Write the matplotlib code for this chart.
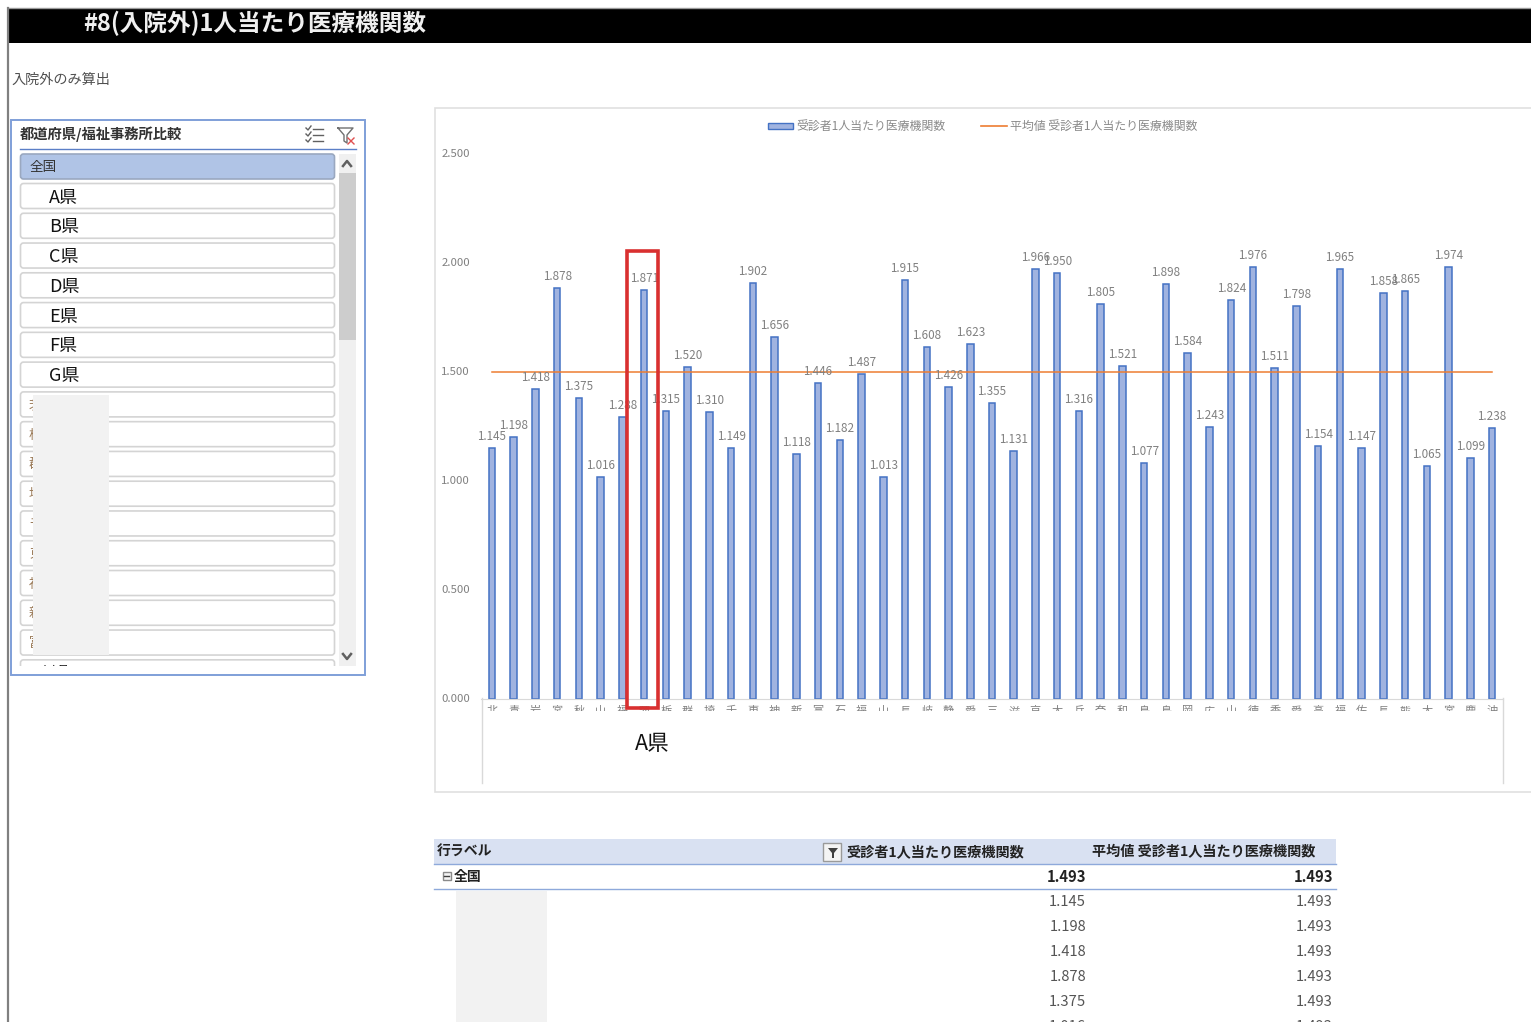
import matplotlib
matplotlib.use('Agg')
import matplotlib.pyplot as plt
from matplotlib.patches import Rectangle, FancyBboxPatch, Polygon
from matplotlib.transforms import Bbox

plt.rcParams['font.family'] = ['Noto Sans CJK JP', 'DejaVu Sans']

W, H = 1531, 1022

# per-prefecture values and the leading character of each axis label
prefs = list('北青岩宮秋山福茨栃群埼千東神新富石福山長岐静愛三滋京大兵奈和鳥島岡広山徳香愛高福佐長熊大宮鹿沖')
values = [1.145, 1.198, 1.418, 1.878, 1.375, 1.016, 1.288, 1.871, 1.315, 1.520,
          1.310, 1.149, 1.902, 1.656, 1.118, 1.446, 1.182, 1.487, 1.013, 1.915,
          1.608, 1.426, 1.623, 1.355, 1.131, 1.966, 1.950, 1.316, 1.805, 1.521,
          1.077, 1.898, 1.584, 1.243, 1.824, 1.976, 1.511, 1.798, 1.154, 1.965,
          1.147, 1.858, 1.865, 1.065, 1.974, 1.099, 1.238]
average = [1.493] * len(values)
yticks = [0, 0.5, 1.0, 1.5, 2.0, 2.5]

series_name = '受診者1人当たり医療機関数'
avg_name = '平均値 受診者1人当たり医療機関数'
slicer_items = ['A県', 'B県', 'C県', 'D県', 'E県', 'F県', 'G県']
slicer_stubs = list('茨栃群埼千東神新富')
table_rows = values[:6]

BAR_FILL = '#a0b3e0'
BAR_EDGE = '#4472c4'
ORANGE = '#ed7d31'
GREY = '#808080'

fig = plt.figure(figsize=(W / 100, H / 100), dpi=100, facecolor='white')


def pixel_axes(zorder):
    a = fig.add_axes([0, 0, 1, 1], zorder=zorder)
    a.set_xlim(0, W)
    a.set_ylim(H, 0)
    a.axis('off')
    a.patch.set_alpha(0)
    return a


ui = pixel_axes(0)
top = pixel_axes(5)

# page header
ui.add_patch(Rectangle((8, 9), W - 8, 34, fc='black', ec='none'))
ui.plot([8, W], [8.5, 8.5], color='#9a9a9a', lw=1)
ui.plot([7.5, 7.5], [8, H], color=GREY, lw=1.6)
ui.text(83, 23.5, '#8(入院外)1人当たり医療機関数', color='#f0f0f0', fontsize=17,
        fontweight='bold', va='center', ha='left')
ui.text(11, 80, '入院外のみ算出', color='#505050', fontsize=10.2, va='center')

# slicer panel
ui.add_patch(Rectangle((11, 120.5), 354, 554.5, fc='white', ec='none'))
ui.text(20, 134.5, '都道府県/福祉事務所比較', color='#333333', fontsize=10.3,
        fontweight='bold', va='center')
ui.plot([20, 356], [149.5, 149.5], color='#5b7fc7', lw=1)

# select-all and clear-filter icons
for yy in (129, 135, 141):
    ui.plot([313, 323], [yy, yy], color='#606060', lw=1)
    ui.plot([306, 308, 311], [yy - 1, yy + 1, yy - 3], color='#606060', lw=1)
ui.plot([338, 353, 347, 347, 344, 344, 338], [128, 128, 135, 143, 141, 135, 128],
        color='#707070', lw=1)
ui.plot([348, 354], [138, 144], color='#e05050', lw=1)
ui.plot([354, 348], [138, 144], color='#e05050', lw=1)


def row(y, h=25, fc='white', ec='#d4d4d4'):
    ui.add_patch(FancyBboxPatch((20.5, y), 314, h,
                                boxstyle='round,pad=0,rounding_size=3',
                                fc=fc, ec=ec, lw=1.2))


row(154, fc='#b0c4e6', ec='#9aa8c0')
ui.text(30, 167, '全国', color='#333333', fontsize=9.8, va='center')

for i in range(17):
    y0 = 183.5 + i * 29.77
    row(y0)
    cy = y0 + 13
    if i < len(slicer_items):
        ui.text(49, cy + 1, slicer_items[i], color='#111111', fontsize=13, va='center')
    elif i - len(slicer_items) < len(slicer_stubs):
        ui.text(29, cy, slicer_stubs[i - len(slicer_items)], color='#9a7a58',
                fontsize=9.6, va='center')
ui.text(30, 672, '石川県', color='#111111', fontsize=9.6, va='center')

# masks over the row labels and the slicer's lower edge
ui.add_patch(Rectangle((33, 395), 76, 260, fc='#f2f2f2', ec='none', zorder=6))
ui.add_patch(Rectangle((13, 666), 350, 24, fc='white', ec='none', zorder=6))
ui.add_patch(Rectangle((11, 120.5), 354, 554.5, fc='none', ec='#7f9fd8', lw=1.4, zorder=7))

# slicer scrollbar
ui.add_patch(Rectangle((339, 154), 17, 512, fc='#f0f0f0', ec='none'))
ui.add_patch(Rectangle((339, 173), 17, 167, fc='#cdcdcd', ec='none'))
ui.plot([343, 347, 351], [166, 161, 166], color='#606060', lw=1.8)
ui.plot([343, 347, 351], [654, 659, 654], color='#606060', lw=1.8)

# chart frame
ui.add_patch(Rectangle((434.5, 108.5), W, 684, fc='white', ec='#e0e0e0', lw=1.2))
ui.plot([482, 482], [698, 783], color='#d9d9d9', lw=1)
ui.plot([1503, 1503], [698, 783], color='#d9d9d9', lw=1)

# legend
ui.add_patch(Rectangle((767.5, 123.5), 25, 6, fc=BAR_FILL, ec=BAR_EDGE, lw=1))
ui.text(796, 126.5, series_name, color='#8a8a8a', fontsize=8.6, va='center')
ui.plot([981, 1007], [126, 126], color=ORANGE, lw=1.2)
ui.text(1010, 126.5, avg_name, color='#8a8a8a', fontsize=8.6, va='center')

# bar chart
ax_left, ax_right = 481, 1503
y0_px, y25_px = 698.5, 152.5
ax = fig.add_axes([ax_left / W, 1 - y0_px / H, (ax_right - ax_left) / W,
                   (y0_px - y25_px) / H], zorder=2)
ax.patch.set_alpha(0)
x = list(range(len(values)))
ax.bar(x, values, width=0.3, color=BAR_FILL, edgecolor=BAR_EDGE, linewidth=1.1)
ax.plot(x, average, color=ORANGE, lw=1.1)
for xi, v in zip(x, values):
    ax.annotate(f'{v:.3f}', (xi, v), xytext=(0, 5), textcoords='offset pixels',
                ha='center', va='bottom', fontsize=8.4, color='#808080',
                annotation_clip=False)
ax.set_xlim(-0.5, len(values) - 0.5)
ax.set_ylim(0, 2.5)
ax.set_yticks(yticks)
ax.set_yticklabels([f'{t:.3f}' for t in yticks], fontsize=8.2, color=GREY)
ax.set_xticks(x)
ax.set_xticklabels(prefs, fontsize=8, color='#808080')
ax.tick_params(axis='both', length=0)
ax.tick_params(axis='y', pad=8)
ax.tick_params(axis='x', pad=5.5)
for name in ('top', 'left', 'right'):
    ax.spines[name].set_visible(False)
ax.spines['bottom'].set_color('#d9d9d9')

# the category labels are cut off just under the axis
label_clip = Bbox([[0, H - 711], [W, H]])
for t in ax.get_xticklabels():
    t.set_clip_on(True)
    t.set_clip_box(label_clip)

# highlight around one prefecture
top.add_patch(Rectangle((627, 251), 30.5, 457.5, fc='none', ec='#d93030', lw=2.6))
top.text(652, 744, 'A県', color='#111111', fontsize=15.5, ha='center', va='center')

# pivot table
ui.add_patch(Rectangle((434, 839), 902, 25, fc='#d9e1f2', ec='none'))
ui.plot([434, 1336], [864.5, 864.5], color='#8ea9db', lw=1)
ui.plot([434, 1336], [889.5, 889.5], color='#8ea9db', lw=1)
ui.text(437, 852, '行ラベル', color='#222222', fontsize=10, fontweight='bold', va='center')
ui.text(846, 852, series_name, color='#222222', fontsize=10.2, fontweight='bold', va='center')
ui.text(1092, 852, avg_name, color='#222222', fontsize=10.2, fontweight='bold', va='center')

# filter button in the header
ui.add_patch(Rectangle((822.5, 843.5), 18, 18, fc='#f4f4f4', ec='#9a9a9a', lw=1))
ui.add_patch(Polygon([(828, 848), (838, 848), (834, 853), (834, 858), (832, 858), (832, 853)],
                     fc='#404040', ec='none'))

# collapse box and total row
ui.add_patch(Rectangle((442.5, 872.5), 8, 8, fc='#f4f4f4', ec='#8a8a8a', lw=1))
ui.plot([444, 449], [876.5, 876.5], color='#404040', lw=1)
ui.text(454, 877, '全国', color='#222222', fontsize=10, fontweight='bold', va='center')
ui.text(1086, 877, f'{average[0]:.3f}', color='#222222', fontsize=10.6, fontweight='bold',
        ha='right', va='center')
ui.text(1333, 877, f'{average[0]:.3f}', color='#222222', fontsize=10.6, fontweight='bold',
        ha='right', va='center')
for i, v in enumerate(table_rows):
    yy = 902 + i * 25
    ui.text(1086, yy, f'{v:.3f}', color='#555555', fontsize=10.6, ha='right', va='center')
    ui.text(1333, yy, f'{average[i]:.3f}', color='#555555', fontsize=10.6, ha='right', va='center')
ui.add_patch(Rectangle((456, 891), 91, H - 891, fc='#f2f2f2', ec='none'))

fig.savefig('out.png', dpi=100)
